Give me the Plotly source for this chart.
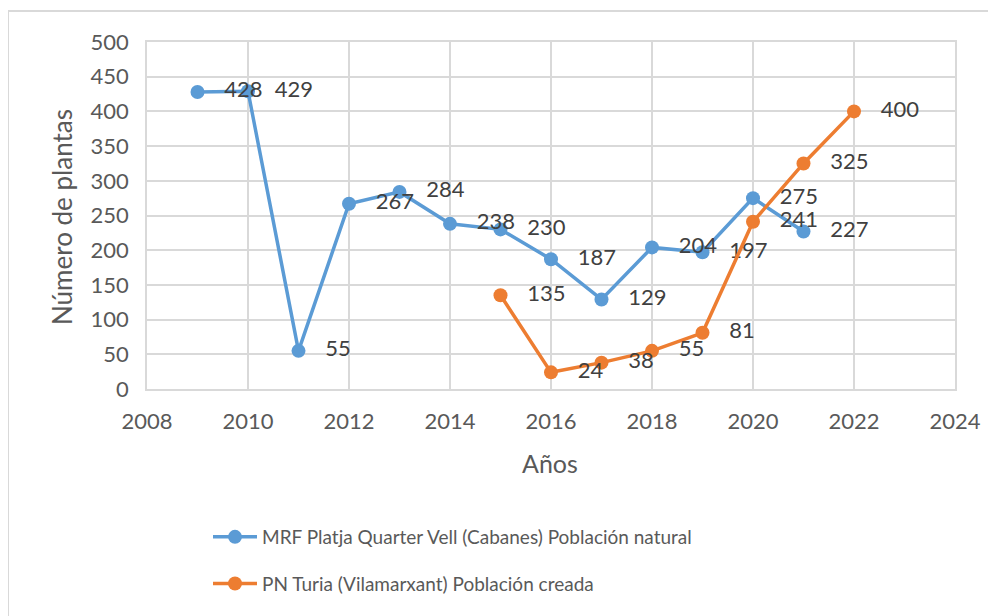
import plotly.graph_objects as go

# Data
years_natural = [2009, 2010, 2011, 2012, 2013, 2014, 2015, 2016, 2017, 2018, 2019, 2020, 2021]
values_natural = [428, 429, 55, 267, 284, 238, 230, 187, 129, 204, 197, 275, 227]
years_created = [2015, 2016, 2017, 2018, 2019, 2020, 2021, 2022]
values_created = [135, 24, 38, 55, 81, 241, 325, 400]
name_natural = "MRF Platja Quarter Vell (Cabanes) Población natural"
name_created = "PN Turia (Vilamarxant) Población creada"
x_title = "Años"
y_title = "Número de plantas"

FONT = "Lato, 'Open Sans', sans-serif"
BLUE = "#5B9BD5"
ORANGE = "#ED7D31"
GRID = "#d9d9d9"

OFF = 8  # page body margin
W, H = 996 - OFF, 616 - OFF
# plot area in window pixels: x 147..955, y 42..389
L = 147 - OFF
T = 42 - OFF
R = W - (955 - OFF)
B = H - (389 - OFF)
pw, ph = W - L - R, H - T - B

def px_x(x):
    return (x - OFF - L) / pw

def px_y(y):
    return (H - B - (y - OFF)) / ph

fig = go.Figure()
for xs, ys, nm, col, grp in [
    (years_natural, values_natural, name_natural, BLUE, "a"),
    (years_created, values_created, name_created, ORANGE, "b"),
]:
    fig.add_trace(go.Scatter(
        x=xs, y=ys, name=nm, mode="lines+markers+text",
        line=dict(color=col, width=3.5),
        marker=dict(color=col, size=14),
        text=["   " + str(v) for v in ys],
        textposition="middle right",
        textfont=dict(family=FONT, size=22, color="#404040"),
        legendgroup=grp,
        cliponaxis=False,
    ))

axis_common = dict(
    showgrid=True, gridcolor=GRID, gridwidth=1.5,
    showline=True, linecolor=GRID, linewidth=1.5, mirror=True,
    zeroline=False,
    tickfont=dict(family=FONT, size=22, color="#595959"),
    ticks="", ticklabelstandoff=12,
)

fig.update_xaxes(range=[2008, 2024], dtick=2, tick0=2008, **axis_common)
fig.update_yaxes(range=[0, 500], dtick=50, tick0=0, **axis_common)

fig.update_layout(
    width=W, height=H,
    margin=dict(l=L, r=R, t=T, b=B, autoexpand=False),
    paper_bgcolor="white", plot_bgcolor="white",
    showlegend=True,
    legend=dict(
        x=px_x(208), y=px_y(518), xanchor="left", yanchor="top",
        orientation="v", font=dict(family=FONT, size=19, color="#595959"),
        tracegroupgap=19, itemwidth=44,
        bgcolor="rgba(0,0,0,0)",
    ),
    annotations=[
        dict(text=y_title, xref="paper", yref="paper", x=px_x(62), y=px_y(217),
             textangle=-90, showarrow=False, xanchor="center", yanchor="middle",
             font=dict(family=FONT, size=26, color="#595959")),
        dict(text=x_title, xref="paper", yref="paper", x=px_x(550), y=px_y(463),
             showarrow=False, xanchor="center", yanchor="middle",
             font=dict(family=FONT, size=25, color="#595959")),
    ],
    shapes=[
        dict(type="rect", xref="paper", yref="paper",
             x0=px_x(8), y0=px_y(640), x1=px_x(1010), y1=px_y(11),
             line=dict(color="#d9d9d9", width=2), fillcolor="rgba(0,0,0,0)", layer="below"),
    ],
)

fig.write_html("out.html")
